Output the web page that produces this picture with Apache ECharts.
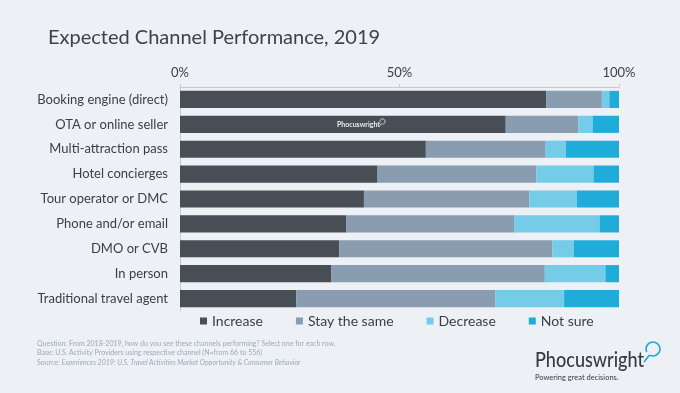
<!DOCTYPE html>
<html>
<head>
<meta charset="utf-8">
<script src="https://cdn.jsdelivr.net/npm/echarts@6/dist/echarts.min.js"></script>
<style>
html,body{margin:0;padding:0;background:#edf0f5;}
#main{width:680px;height:393px;}
</style>
</head>
<body>
<div id="main"></div>
<script>
const categories = ["Booking engine (direct)","OTA or online seller","Multi-attraction pass","Hotel concierges","Tour operator or DMC","Phone and/or email","DMO or CVB","In person","Traditional travel agent"];
const increase = [83.4, 74.2, 56.0, 45.0, 41.9, 37.9, 36.3, 34.5, 26.5];
const stayTheSame = [12.7, 16.5, 27.3, 36.2, 37.7, 38.2, 48.5, 48.6, 45.3];
const decrease = [1.7, 3.3, 4.6, 13.0, 10.8, 19.5, 4.9, 13.8, 15.7];
const notSure = [2.2, 6.0, 12.1, 5.8, 9.6, 4.4, 10.3, 3.1, 12.5];
const seriesNames = ["Increase","Stay the same","Decrease","Not sure"];
const xTicks = [0, 50, 100];

const colors = ["#474e56","#8a9caf","#75cce9","#20acd8"];
const font = "Lato";
const chart = echarts.init(document.getElementById('main'), null, {renderer:'canvas'});
const values = [increase, stayTheSame, decrease, notSure];
chart.setOption({
  backgroundColor: '#edf0f5',
  animation: false,
  textStyle: {fontFamily: font},
  grid: {left: 180, right: 61, top: 87, bottom: 82},
  legend: {
    data: seriesNames,
    left: 195, top: 309,
    icon: 'rect', itemWidth: 7, itemHeight: 7, itemGap: 33,
    textStyle: {fontFamily: font, fontSize: 14, color: '#3a3f46'}
  },
  xAxis: {
    type: 'value', position: 'top', min: xTicks[0], max: xTicks[xTicks.length-1], interval: 50,
    axisLine: {show: true, lineStyle: {color: '#c5cad2', width: 1}},
    axisTick: {show: true, length: 3, lineStyle: {color: '#c5cad2'}},
    splitLine: {show: false},
    axisLabel: {formatter: '{value}%', fontSize: 13, color: '#3a3f46', margin: 8, fontFamily: font}
  },
  yAxis: {
    type: 'category', data: categories, inverse: true,
    axisLine: {show: true, lineStyle: {color: '#c5cad2', width: 1}},
    axisTick: {show: false},
    axisLabel: {fontSize: 13, color: '#3a3f46', margin: 12, fontFamily: font}
  },
  series: seriesNames.map((n, i) => ({
    name: n, type: 'bar', stack: 'total', data: values[i],
    barCategoryGap: '31%',
    itemStyle: {color: colors[i]},
    emphasis: {disabled: true}
  })),
  graphic: [
    {type: 'text', x: 48, y: 28, style: {text: 'Expected Channel Performance, 2019', fontSize: 20, fontFamily: font, fill: '#3d434b'}},
    {type: 'text', z: 100, x: 337, y: 121, style: {text: 'Phocuswright', fontSize: 7, fontFamily: font, fontWeight: 'bold', fill: '#e8ebef'}},
    {type: 'arc', z: 100, shape: {cx: 382.5, cy: 121.5, r: 2.6, startAngle: 2.7, endAngle: 8.3, clockwise: true}, style: {stroke: '#e8ebef', fill: null, lineWidth: 0.8}},
    {type: 'line', z: 100, shape: {x1: 381.2, y1: 123.8, x2: 379.2, y2: 126.5}, style: {stroke: '#e8ebef', lineWidth: 0.8}},
    {type: 'text', x: 37, y: 340, style: {text: 'Question: From 2018-2019, how do you see these channels performing? Select one for each row.', fontSize: 7, fontFamily: font, fill: '#9ea9bb'}},
    {type: 'text', x: 37, y: 349.5, style: {text: 'Base: U.S. Activity Providers using respective channel (N=from 66 to 556)', fontSize: 7, fontFamily: font, fill: '#9ea9bb'}},
    {type: 'text', x: 37, y: 359, style: {
      text: '{a|Source: }{b|Experiences 2019: U.S. Travel Activities Market Opportunity & Consumer Behavior}',
      rich: {a: {fontSize: 7, fontFamily: font, fill: '#9ea9bb'}, b: {fontSize: 7, fontFamily: font, fontStyle: 'italic', fill: '#9ea9bb'}}
    }},
    {type: 'text', x: 535, y: 350, scaleX: 0.86, style: {text: 'Phocuswright', fontSize: 21, fontFamily: font, fontWeight: 500, fill: '#353b43'}},
    {type: 'arc', shape: {cx: 653, cy: 349, r: 7, startAngle: 2.7, endAngle: 8.3, clockwise: true}, style: {stroke: '#1fa9d6', fill: null, lineWidth: 1.6}},
    {type: 'line', shape: {x1: 649.5, y1: 355, x2: 644, y2: 362}, style: {stroke: '#1fa9d6', lineWidth: 1.6}},
    {type: 'text', x: 535, y: 374, style: {text: 'Powering great decisions.', fontSize: 7.5, fontFamily: font, fill: '#353b43'}}
  ]
});
</script>
</body>
</html>
